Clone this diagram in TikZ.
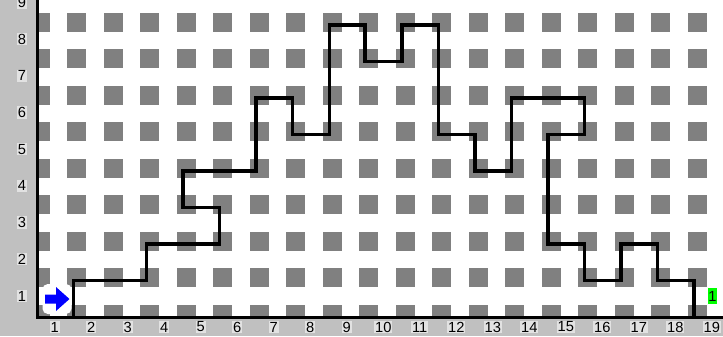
\documentclass[tikz,border=0pt]{standalone}
\usepackage{fontspec}
\setmainfont{Liberation Sans}
\definecolor{sq}{RGB}{128,128,128}
\definecolor{panel}{RGB}{192,192,192}
\definecolor{lblbg}{RGB}{226,226,226}
\definecolor{arrowblue}{RGB}{0,0,255}
\definecolor{brightgreen}{RGB}{0,255,0}
\begin{document}
\begin{tikzpicture}[x=0.75pt,y=-0.75pt,
  tile/.style={fill=sq,draw=none},
  route/.style={draw=black,line width=2.5pt,line join=miter},
  axisline/.style={draw=black,line width=2.25pt},
  lbl/.style={fill=lblbg,inner sep=0.7pt,font=\fontsize{11}{12}\selectfont},
  badge/.style={fill=brightgreen,inner sep=0.3pt,minimum width=6pt,minimum height=12.5pt,font=\fontsize{11}{12}\selectfont}]
\useasboundingbox (0,0) rectangle (723,336);
\fill[white] (0,0) rectangle (723,336);
% gray tiles
\foreach \k in {0,...,18}{
  \foreach \j in {0,...,8}{
    \path[tile] ({40+36.5*\k-9.5},{314-36.5*\j-9.5}) rectangle ++(19,19);
  }
}
% start arrow with white halo
\fill[white,rounded corners=4pt] (42.5,284) rectangle (71.5,314);
\fill[arrowblue] (45,294.5) -- (56,294.5) -- (56,287) -- (69.5,299) -- (56,311) -- (56,303.5) -- (45,303.5) -- cycle;
% route
\draw[route] (73.5,317) -- (73.5,280.5) -- (146.5,280.5) -- (146.5,244) -- (219.5,244) -- (219.5,207.5) -- (183,207.5) -- (183,171) -- (256,171) -- (256,98) -- (292.5,98) -- (292.5,134.5) -- (329.5,134.5) -- (329.5,25) -- (365,25) -- (365,61.5) -- (402,61.5) -- (402,25) -- (438.5,25) -- (438.5,134.5) -- (475,134.5) -- (475,171) -- (511.5,171) -- (511.5,98) -- (584.5,98) -- (584.5,134.5) -- (548,134.5) -- (548,244) -- (584.5,244) -- (584.5,280.5) -- (621,280.5) -- (621,244) -- (657.5,244) -- (657.5,280.5) -- (694,280.5) -- (694,317);
% panels
\fill[panel] (0,0) rectangle (36,336);
\fill[panel] (0,318.5) rectangle (723,336);
% axes
\draw[axisline] (37.5,0) -- (37.5,318.5);
\draw[axisline] (36.5,317.5) -- (723,317.5);
% column labels
\foreach \i in {1,...,19}{
  \node[lbl] (c\i) at ({36.5+36.5*(\i-0.5)},327) {\i};
}
% row labels
\foreach \j in {1,...,9}{
  \node[lbl] (r\j) at (22,{332.7-36.7*\j}) {\j};
}
% green badge
\node[badge] (g1) at (712.5,296) {1};
\end{tikzpicture}
\end{document}
